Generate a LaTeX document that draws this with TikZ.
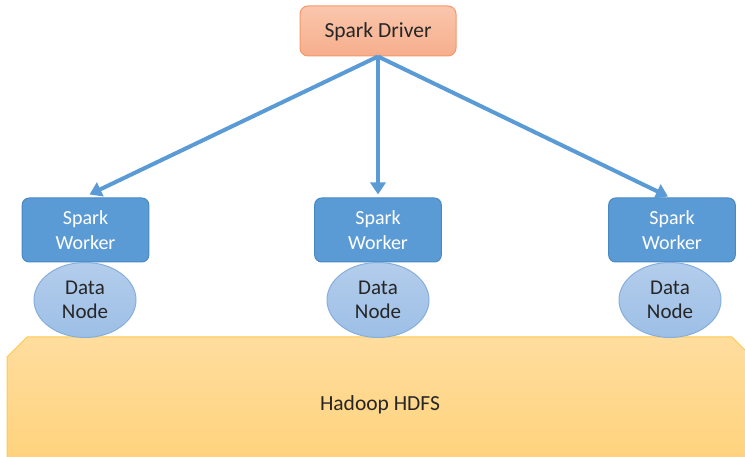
\documentclass[tikz,border=0pt]{standalone}
\usepackage{fontspec}
\setmainfont{Carlito}
\usetikzlibrary{shapes.geometric,arrows.meta}
\definecolor{drvfill}{HTML}{F6AE8C}
\definecolor{drvtop}{HTML}{FAC6AC}
\definecolor{drvline}{HTML}{F2996C}
\definecolor{wkfill}{HTML}{5B9BD5}
\definecolor{wkline}{HTML}{4A88C4}
\definecolor{dnfill}{HTML}{9DBFE6}
\definecolor{dntop}{HTML}{B3CDEC}
\definecolor{dnline}{HTML}{86AEDD}
\definecolor{hdtop}{HTML}{FFDD9E}
\definecolor{hdbot}{HTML}{FFD27A}
\definecolor{hdline}{HTML}{FFC94D}
\definecolor{arr}{HTML}{5B9BD5}
\tikzset{
  driver/.style={draw=drvline, line width=1pt, rounded corners=8pt, top color=drvtop, bottom color=drvfill, minimum width=156pt, minimum height=50pt, font=\fontsize{21.5}{24}\selectfont, text=black!85},
  worker/.style={draw=wkline, line width=1pt, rounded corners=7pt, fill=wkfill, minimum width=125pt, minimum height=64pt, text width=120pt, align=center, font=\fontsize{20}{25}\selectfont, text=white},
  datanode/.style={ellipse, draw=dnline, line width=1pt, top color=dntop, bottom color=dnfill, minimum width=102pt, minimum height=75pt, inner sep=0pt, align=center, font=\fontsize{21}{24}\selectfont, text=black!85},
  link/.style={draw=arr, line width=4pt, -{Triangle[length=12pt,width=15pt]}}
}
\begin{document}
\begin{tikzpicture}[x=1pt,y=-1pt]
\useasboundingbox (0,0) rectangle (745,457);
% HDFS
\draw[hdline, line width=1pt, top color=hdtop, bottom color=hdbot]
  (7,470) -- (7,357) -- (27,337) -- (732,337) -- (752,357) -- (752,470) -- cycle;
\node[font=\fontsize{21.5}{24}\selectfont, text=black!85] (hdfs) at (380,405) {Hadoop HDFS};
% driver
\node[driver, text depth=2pt, text height=16pt] (drv) at (378,31) {Spark Driver};
% workers
\node[worker] (w1) at (85.5,230) {Spark\\Worker};
\node[worker] (w2) at (378,230) {Spark\\Worker};
\node[worker] (w3) at (672,230) {Spark\\Worker};
% data nodes
\node[datanode] (d1) at (85,300) {Data\\Node};
\node[datanode] (d2) at (378,300) {Data\\Node};
\node[datanode] (d3) at (670,300) {Data\\Node};
% arrows
\coordinate (src) at (drv.south);
\draw[link] (src) -- ([xshift=4pt,yshift=3pt]w1.north);
\draw[link] (src) -- ([yshift=3pt]w2.north);
\draw[link] (src) -- ([xshift=-4pt,yshift=1pt]w3.north);
\end{tikzpicture}
\end{document}
